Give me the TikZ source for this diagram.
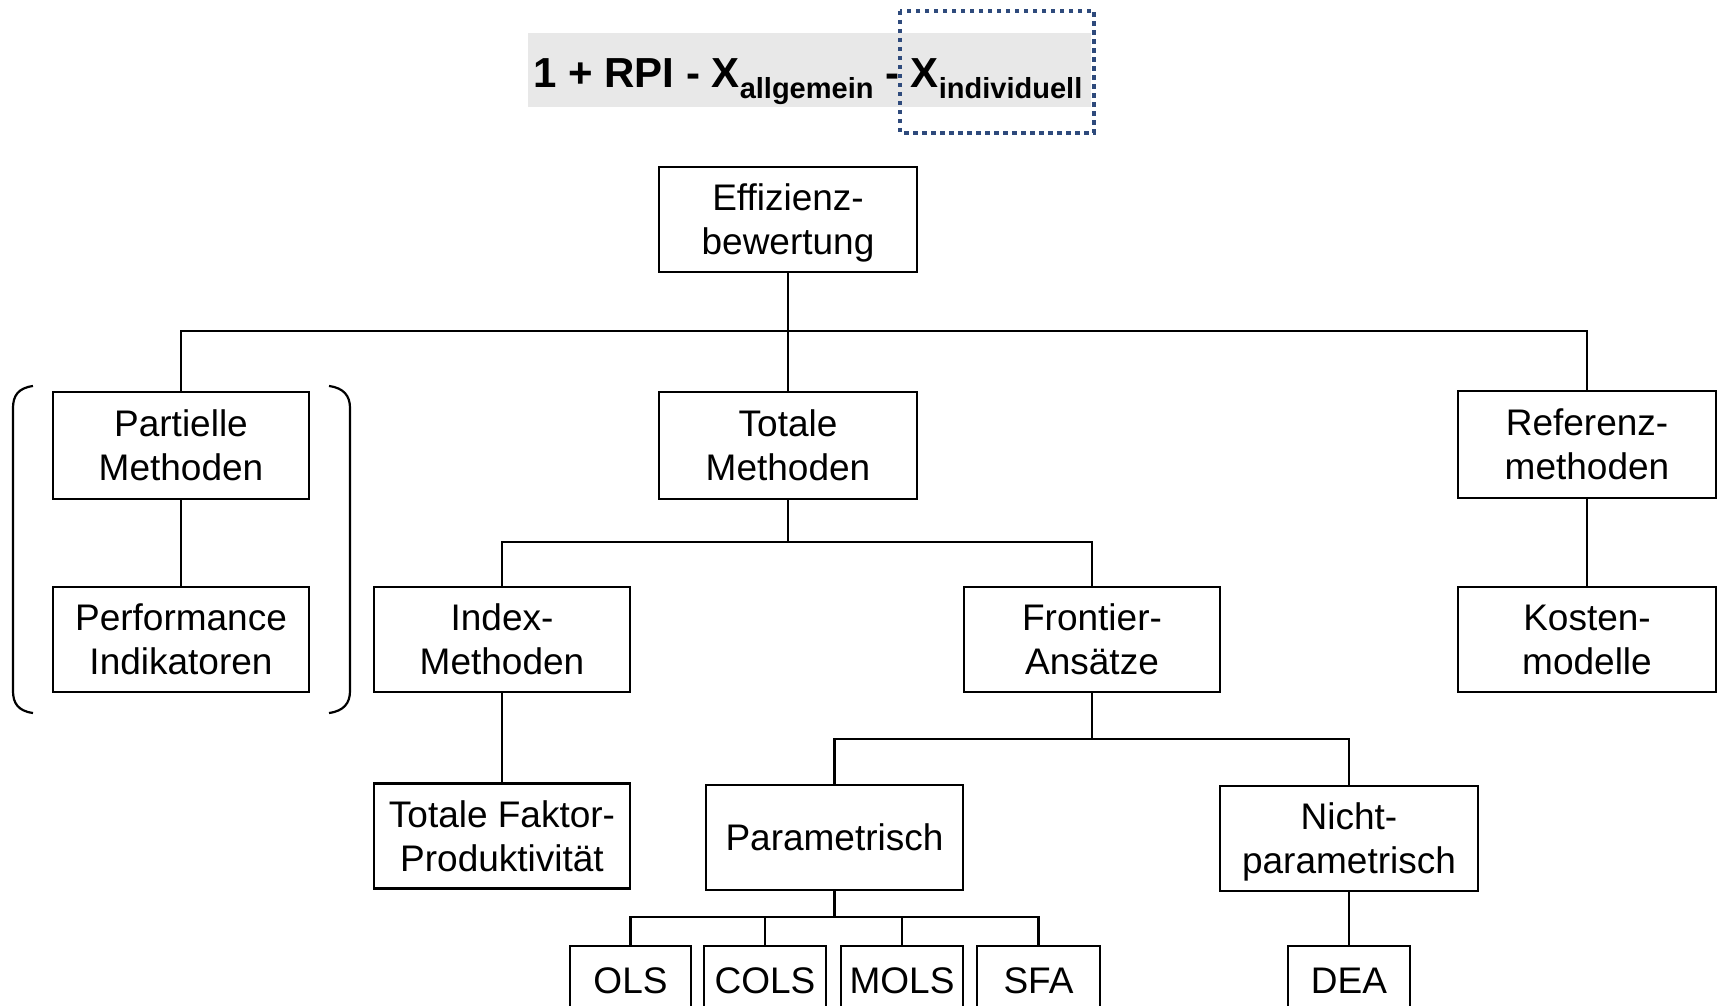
\documentclass[tikz,border=0pt]{standalone}
\usepackage{fontspec}
\setmainfont{Liberation Sans}
\definecolor{dotblue}{HTML}{2E4A7C}
\definecolor{bandgray}{HTML}{E8E8E8}
\begin{document}
\begin{tikzpicture}[x=1pt,y=-1pt,
  box/.style={draw,line width=2.2pt,minimum width=256pt,minimum height=105pt,align=center,inner sep=0pt,text depth=0pt,font=\fontsize{37}{44}\selectfont},
  sbox/.style={draw,line width=2.2pt,minimum width=121pt,minimum height=70pt,inner sep=0pt,font=\fontsize{37}{44}\selectfont},
  conn/.style={line width=2.4pt},
  brack/.style={line width=2.2pt}]
\useasboundingbox (0,0) rectangle (1719,1006);
\clip (0,0) rectangle (1719,1006);
\fill[white] (0,0) rectangle (1719,1006);
% formula
\fill[bandgray] (528,33) rectangle (1091,107);
\node[anchor=base west,inner sep=0pt,font=\fontsize{42}{50}\selectfont\bfseries] (formula) at (533,88)
  {1 + RPI - X\raisebox{-11pt}{\fontsize{29}{30}\selectfont allgemein} - X\raisebox{-11pt}{\fontsize{29}{30}\selectfont individuell}};
\draw[dotblue,line width=4.4pt,dash pattern=on 4.5pt off 4.5pt] (900,11) rectangle (1094,133);
% boxes
\node[box,minimum width=258pt] (eff) at (788,219.5) {Effizienz-\\bewertung};
\node[box,minimum height=107pt] (part) at (181,445.5) {Partielle\\Methoden};
\node[box,minimum width=258pt,minimum height=107pt] (tot) at (788,445.5) {Totale\\Methoden};
\node[box,minimum width=258pt,minimum height=107pt] (ref) at (1587,444.5) {Referenz-\\methoden};
\node[box] (perf) at (181,639.5) {Performance\\Indikatoren};
\node[box] (index) at (502,639.5) {Index-\\Methoden};
\node[box] (front) at (1092,639.5) {Frontier-\\Ansätze};
\node[box,minimum width=258pt] (kost) at (1587,639.5) {Kosten-\\modelle};
\node[box] (tfp) at (502,836) {Totale Faktor-\\Produktivität};
\node[box,minimum width=257pt] (param) at (834.5,837.5) {Parametrisch};
\node[box,minimum width=258pt] (nicht) at (1349,838.5) {Nicht-\\parametrisch};
\node[sbox] (ols) at (630.5,981) {OLS};
\node[sbox,minimum width=122pt] (cols) at (765,981) {COLS};
\node[sbox,minimum width=122pt] (mols) at (902,981) {MOLS};
\node[sbox,minimum width=123pt] (sfa) at (1038.5,981) {SFA};
\node[sbox,minimum width=122pt] (dea) at (1349,981) {DEA};
% buses
\coordinate (busA) at (788,331);
\coordinate (busB) at (788,542);
\coordinate (busC) at (1092,739);
\coordinate (busD) at (834.5,917);
% connectors
\draw[conn] (eff.south) -- (tot.north);
\draw[conn] (part.north) |- (busA) -| (ref.north);
\draw[conn] (part.south) -- (perf.north);
\draw[conn] (ref.south) -- (kost.north);
\draw[conn] (tot.south) -- (busB);
\draw[conn] (index.north) |- (busB) -| (front.north);
\draw[conn] (index.south) -- (tfp.north);
\draw[conn] (front.south) -- (busC);
\draw[conn] (param.north) |- (busC) -| (nicht.north);
\draw[conn] (param.south) -- (busD);
\draw[conn] (ols.north) |- (busD) -| (sfa.north);
\draw[conn] (cols.north) -- (cols.north |- busD);
\draw[conn] (mols.north) -- (mols.north |- busD);
\draw[conn] (nicht.south) -- (dea.north);
% brackets
\draw[brack] (33,386) .. controls (18,388) and (13,396) .. (13,408) -- (13,691) .. controls (13,703) and (18,711) .. (33,713);
\draw[brack] (329,386) .. controls (344,388) and (350,396) .. (350,408) -- (350,691) .. controls (350,703) and (344,711) .. (329,713);
\end{tikzpicture}
\end{document}
